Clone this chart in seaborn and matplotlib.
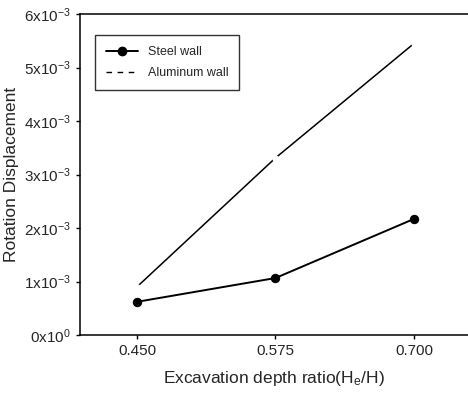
import matplotlib
matplotlib.use("Agg")
import matplotlib.pyplot as plt
import seaborn as sns
import pandas as pd
from matplotlib.lines import Line2D

ratios = [0.450, 0.575, 0.700]
steel = [0.62e-3, 1.065e-3, 2.17e-3]
aluminum = [0.90e-3, 3.31e-3, 5.45e-3]
series_names = ["Steel wall", "Aluminum wall"]
xtick_labels = ["0.450", "0.575", "0.700"]
ytick_vals = [0, 1e-3, 2e-3, 3e-3, 4e-3, 5e-3, 6e-3]
ytick_labels = ["0x10$^{0}$", "1x10$^{-3}$", "2x10$^{-3}$", "3x10$^{-3}$",
                "4x10$^{-3}$", "5x10$^{-3}$", "6x10$^{-3}$"]

sns.set_style("white")
plt.rcParams['font.family'] = ['Liberation Sans', 'DejaVu Sans']
plt.rcParams['mathtext.fontset'] = 'custom'
plt.rcParams['mathtext.rm'] = 'Liberation Sans'
plt.rcParams['mathtext.it'] = 'Liberation Sans'

df = pd.DataFrame({
    "ratio": ratios * 2,
    "value": steel + aluminum,
    "series": [series_names[0]] * 3 + [series_names[1]] * 3,
})

fig = plt.figure(figsize=(4.68, 3.95), dpi=100)
ax = fig.add_axes([80/468, 60/395, 1 - 80/468, (335-14)/395])

sns.lineplot(data=df[df.series == series_names[0]], x="ratio", y="value",
             color="black", lw=1.4, marker="o", markersize=6,
             markeredgecolor="black", ax=ax, legend=False)
sns.lineplot(data=df[df.series == series_names[1]], x="ratio", y="value",
             color="black", lw=1.1, marker="o", markersize=4,
             markerfacecolor="white", markeredgecolor="white", ax=ax, legend=False)

ax.set_xlim(0.3986, 0.7487)
ax.set_ylim(0, 6e-3)
ax.set_xticks(ratios)
ax.set_xticklabels(xtick_labels, fontsize=11)
ax.set_yticks(ytick_vals)
ax.set_yticklabels(ytick_labels, fontsize=11)
ax.tick_params(axis='both', direction='out', length=3, width=1, color='black',
               bottom=True, left=True)
for side in ['left', 'bottom', 'top']:
    ax.spines[side].set_color('black')
    ax.spines[side].set_linewidth(1.1)
ax.spines['right'].set_visible(False)

ax.set_xlabel(r"Excavation depth ratio(H$_{\mathrm{e}}$/H)", fontsize=12.5, labelpad=8)
ax.set_ylabel("Rotation Displacement", fontsize=12.5, labelpad=4)

handles = [
    Line2D([], [], color="black", lw=1.4, marker="o", markersize=6),
    Line2D([], [], color="black", lw=1.0, linestyle=(0, (4, 4))),
]
leg = ax.legend(handles, series_names, loc="upper left",
                bbox_to_anchor=(15/388, 1 - 21/321), borderaxespad=0, fontsize=9,
                frameon=True, fancybox=False, edgecolor="black",
                handlelength=2.5, borderpad=0.9, labelspacing=0.7)
leg.get_frame().set_linewidth(1.0)

fig.savefig("out.png", dpi=100)
